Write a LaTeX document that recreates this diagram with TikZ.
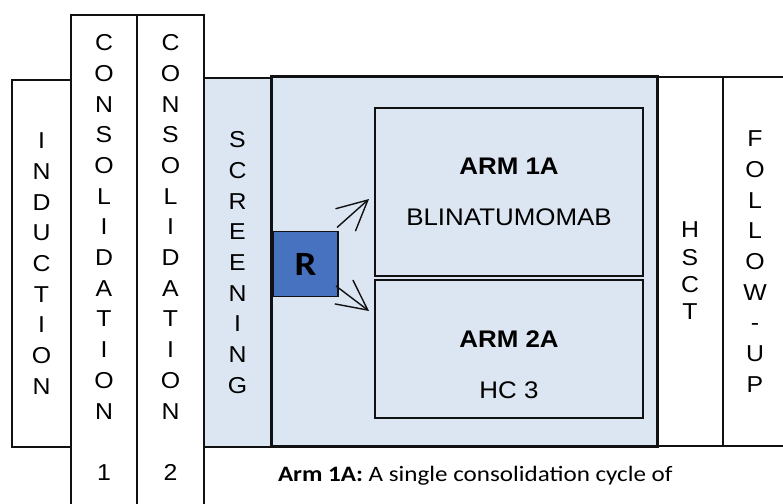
\documentclass[tikz,border=0pt]{standalone}
\usepackage{fontspec}
\setmainfont{Liberation Sans}[FakeStretch=1.08]
\newfontfamily\notefont{Carlito}[FakeStretch=1.14]
\usepackage{tikz}
\usetikzlibrary{arrows.meta,positioning}
\definecolor{armfill}{HTML}{DCE6F2}
\definecolor{randblue}{HTML}{4672C0}
\definecolor{lineink}{HTML}{111111}

\begin{document}
\begin{tikzpicture}[
  x=1bp,y=-1bp,
  every node/.style={inner sep=0pt,outer sep=0pt},
  col/.style={draw=lineink,line width=1.4bp,fill=white,minimum width=66bp,anchor=north west},
  vtext/.style={align=center,font=\fontsize{23bp}{30.7bp}\selectfont},
  arm/.style={draw=lineink,line width=2bp,minimum width=268bp},
  armtext/.style={align=center,font=\fontsize{24bp}{51bp}\selectfont},
  arrow/.style={-{Straight Barb[length=30bp,width=30bp]},line width=1.4bp,color=lineink}
]
\useasboundingbox (0,0) rectangle (783,504);
\clip (0,0) rectangle (783,504);
% treatment phases, left to right
\node[col,vtext,minimum width=59bp,minimum height=367bp] (induct) at (12,80) {I\\N\\D\\U\\C\\T\\I\\O\\N};
\node[col,minimum height=530bp] (cons1) at (71,15) {};
\node[col,minimum width=67bp,minimum height=530bp] (cons2) at (137,15) {};
\node[vtext] (cons1lbl) at (104,257.5) {C\\O\\N\\S\\O\\L\\I\\D\\A\\T\\I\\O\\N\\[30.7bp]1};
\node[vtext] (cons2lbl) at (170.5,257.5) {C\\O\\N\\S\\O\\L\\I\\D\\A\\T\\I\\O\\N\\[30.7bp]2};
\node[col,vtext,fill=armfill,minimum width=67bp,minimum height=369bp] (screen) at (204,78) {S\\C\\R\\E\\E\\N\\I\\N\\G};
\node[col,minimum height=369bp] (hsct) at (657,77) {};
\node[vtext,font=\fontsize{23bp}{27.3bp}\selectfont] (hsctlbl) at (690,271) {H\\S\\C\\T};
\node[col,vtext,minimum width=64bp,minimum height=369bp] (follow) at (723,77) {F\\O\\L\\L\\O\\W\\-\\U\\P};
% randomisation panel
\node[col,fill=armfill,line width=3bp,minimum width=386bp,minimum height=369bp] (panel) at (271,77) {};
\node[arm,armtext,minimum height=168bp,anchor=north west] (arm1) at (375,108) {\textbf{ARM 1A}\\BLINATUMOMAB};
\node[arm,minimum height=138bp,below=4bp of arm1] (arm2) {};
\node[armtext] (arm2lbl) at ([yshift=-16bp]arm2.center) {\textbf{ARM 2A}\\HC 3};
\node[draw=lineink,line width=1.4bp,fill=randblue,minimum size=65bp,
  font=\notefont\bfseries\fontsize{34bp}{34bp}\selectfont] (rand) at (305.5,264) {R};
\draw[arrow] ([shift={(-1,-4)}]rand.north east) -- ([shift={(-6,7)}]arm1.west);
\draw[arrow] ([shift={(-2,-10.5)}]rand.south east) -- ([shift={(-6,31)}]arm2.north west);
% note under the panel
\node[anchor=base west,font=\notefont\fontsize{22bp}{26bp}\selectfont] (note) at (278,481.5)
  {\textbf{Arm 1A:} A single consolidation cycle of};
\end{tikzpicture}
\end{document}
